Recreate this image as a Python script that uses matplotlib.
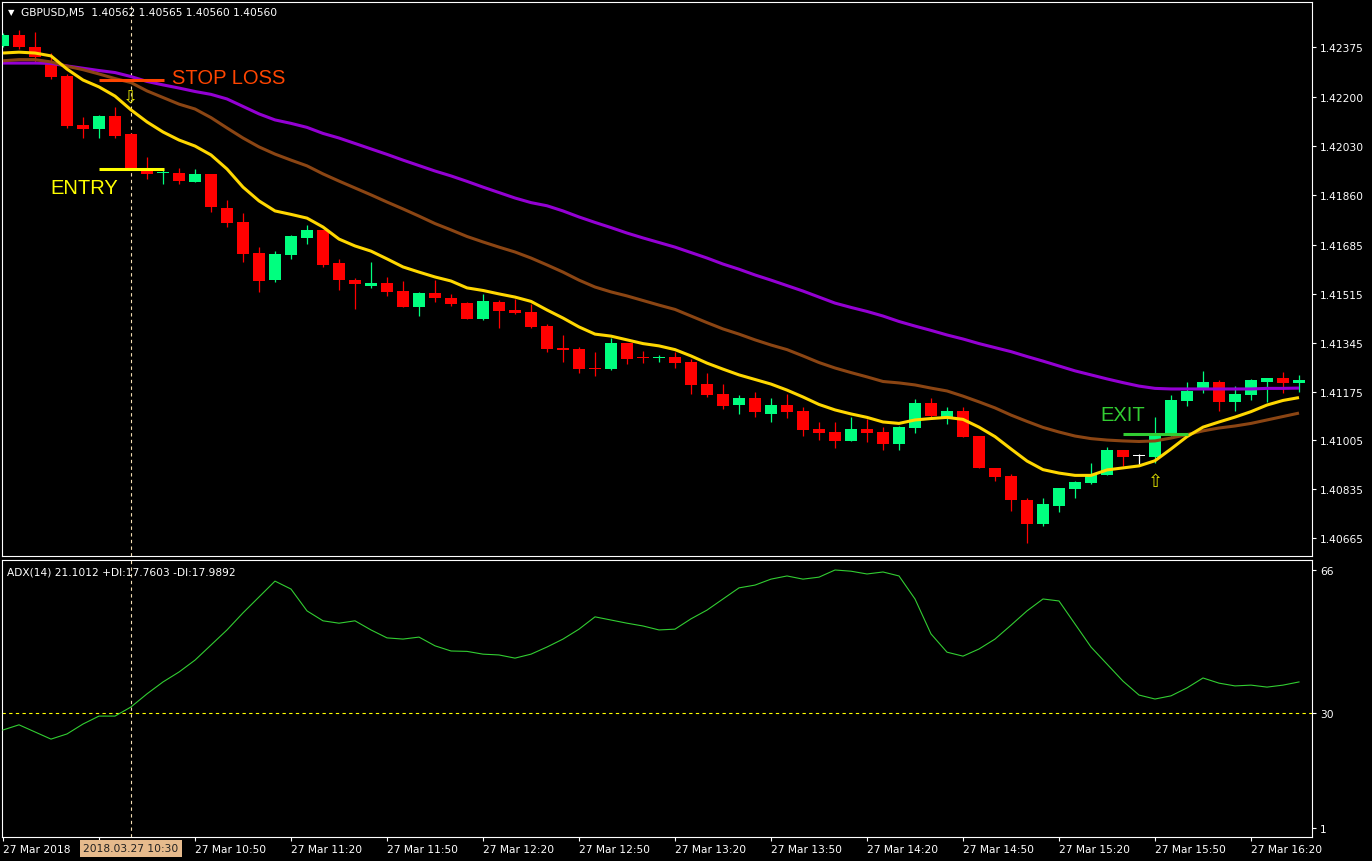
import numpy as np
import matplotlib
matplotlib.use("Agg")
from matplotlib import pyplot as plt
from matplotlib import transforms

# GBPUSD M5, 27 Mar 2018, 82 bars from 09:50 to 16:35

opens = [1.42380, 1.42417, 1.42374, 1.42322, 1.42275, 1.42103, 1.42090, 1.42135, 1.42072, 1.41950,
         1.41935, 1.41936, 1.41905, 1.41933, 1.41814, 1.41767, 1.41659, 1.41565, 1.41652, 1.41711,
         1.41738, 1.41623, 1.41563, 1.41544, 1.41553, 1.41525, 1.41471, 1.41518, 1.41501, 1.41483,
         1.41428, 1.41487, 1.41459, 1.41452, 1.41403, 1.41328, 1.41323, 1.41258, 1.41255, 1.41344,
         1.41294, 1.41292, 1.41295, 1.41278, 1.41201, 1.41166, 1.41128, 1.41152, 1.41097, 1.41128,
         1.41107, 1.41045, 1.41034, 1.41003, 1.41045, 1.41034, 1.40992, 1.41048, 1.41135, 1.41086,
         1.41107, 1.41020, 1.40909, 1.40881, 1.40797, 1.40714, 1.40776, 1.40836, 1.40856, 1.40884,
         1.40971, 1.40950, 1.40947, 1.41020, 1.41142, 1.41187, 1.41208, 1.41139, 1.41163, 1.41208,
         1.41222, 1.41205]
highs = [1.42424, 1.42434, 1.42426, 1.42354, 1.42280, 1.42132, 1.42138, 1.42166, 1.42074, 1.41992,
         1.41950, 1.41954, 1.41950, 1.41934, 1.41842, 1.41798, 1.41678, 1.41666, 1.41721, 1.41755,
         1.41739, 1.41637, 1.41570, 1.41626, 1.41574, 1.41560, 1.41522, 1.41563, 1.41515, 1.41487,
         1.41515, 1.41494, 1.41497, 1.41480, 1.41410, 1.41372, 1.41331, 1.41313, 1.41361, 1.41345,
         1.41316, 1.41302, 1.41313, 1.41288, 1.41240, 1.41201, 1.41163, 1.41173, 1.41152, 1.41166,
         1.41121, 1.41069, 1.41069, 1.41086, 1.41079, 1.41051, 1.41055, 1.41149, 1.41152, 1.41121,
         1.41121, 1.41021, 1.40910, 1.40888, 1.40804, 1.40804, 1.40840, 1.40863, 1.40926, 1.40982,
         1.40972, 1.40957, 1.41086, 1.41163, 1.41208, 1.41247, 1.41215, 1.41194, 1.41219, 1.41223,
         1.41243, 1.41233]
lows = [1.42375, 1.42368, 1.42322, 1.42264, 1.42094, 1.42058, 1.42058, 1.42058, 1.41948, 1.41915,
        1.41898, 1.41898, 1.41904, 1.41801, 1.41749, 1.41626, 1.41523, 1.41558, 1.41637, 1.41690,
        1.41610, 1.41529, 1.41464, 1.41537, 1.41509, 1.41470, 1.41439, 1.41488, 1.41474, 1.41428,
        1.41424, 1.41397, 1.41445, 1.41396, 1.41314, 1.41279, 1.41241, 1.41230, 1.41251, 1.41272,
        1.41275, 1.41279, 1.41258, 1.41167, 1.41157, 1.41114, 1.41097, 1.41086, 1.41069, 1.41083,
        1.41020, 1.41006, 1.40978, 1.41002, 1.40999, 1.40971, 1.40971, 1.41031, 1.41079, 1.41062,
        1.41016, 1.40908, 1.40864, 1.40759, 1.40648, 1.40707, 1.40755, 1.40804, 1.40853, 1.40883,
        1.40916, 1.40919, 1.40926, 1.41019, 1.41125, 1.41170, 1.41107, 1.41107, 1.41146, 1.41139,
        1.41170, 1.41173]
closes = [1.42417, 1.42376, 1.42339, 1.42272, 1.42100, 1.42090, 1.42135, 1.42065, 1.41950, 1.41933,
          1.41936, 1.41909, 1.41933, 1.41819, 1.41763, 1.41654, 1.41561, 1.41654, 1.41717, 1.41738,
          1.41617, 1.41565, 1.41551, 1.41553, 1.41523, 1.41471, 1.41518, 1.41502, 1.41480, 1.41429,
          1.41490, 1.41457, 1.41450, 1.41401, 1.41324, 1.41321, 1.41255, 1.41255, 1.41344, 1.41289,
          1.41291, 1.41294, 1.41275, 1.41199, 1.41164, 1.41125, 1.41152, 1.41104, 1.41128, 1.41104,
          1.41041, 1.41032, 1.41003, 1.41045, 1.41032, 1.40992, 1.41051, 1.41135, 1.41090, 1.41107,
          1.41017, 1.40909, 1.40878, 1.40797, 1.40714, 1.40783, 1.40839, 1.40860, 1.40888, 1.40971,
          1.40947, 1.40950, 1.41020, 1.41146, 1.41177, 1.41208, 1.41139, 1.41166, 1.41215, 1.41222,
          1.41205, 1.41215]

ma_fast = [1.42354, 1.42357, 1.42354, 1.42344, 1.42298, 1.42260, 1.42236, 1.42204, 1.42156, 1.42114,
           1.42079, 1.42051, 1.42030, 1.41999, 1.41950, 1.41887, 1.41839, 1.41804, 1.41792, 1.41779,
           1.41748, 1.41706, 1.41682, 1.41664, 1.41637, 1.41609, 1.41591, 1.41574, 1.41560, 1.41536,
           1.41527, 1.41515, 1.41504, 1.41489, 1.41459, 1.41431, 1.41400, 1.41375, 1.41368, 1.41355,
           1.41342, 1.41334, 1.41321, 1.41299, 1.41274, 1.41253, 1.41233, 1.41217, 1.41201, 1.41180,
           1.41156, 1.41130, 1.41111, 1.41097, 1.41085, 1.41069, 1.41064, 1.41076, 1.41081, 1.41085,
           1.41078, 1.41051, 1.41018, 1.40975, 1.40933, 1.40903, 1.40891, 1.40883, 1.40883, 1.40902,
           1.40909, 1.40916, 1.40934, 1.40975, 1.41018, 1.41051, 1.41069, 1.41086, 1.41105, 1.41128,
           1.41144, 1.41154]
ma_mid = [1.42327, 1.42331, 1.42331, 1.42323, 1.42308, 1.42296, 1.42281, 1.42265, 1.42251, 1.42222,
          1.42199, 1.42176, 1.42159, 1.42129, 1.42093, 1.42058, 1.42027, 1.42002, 1.41981, 1.41961,
          1.41933, 1.41908, 1.41884, 1.41860, 1.41835, 1.41811, 1.41786, 1.41760, 1.41738, 1.41715,
          1.41696, 1.41678, 1.41661, 1.41640, 1.41616, 1.41591, 1.41563, 1.41539, 1.41522, 1.41508,
          1.41492, 1.41476, 1.41461, 1.41438, 1.41415, 1.41393, 1.41375, 1.41355, 1.41337, 1.41321,
          1.41299, 1.41276, 1.41257, 1.41241, 1.41226, 1.41210, 1.41205, 1.41198, 1.41187, 1.41177,
          1.41159, 1.41139, 1.41118, 1.41093, 1.41071, 1.41050, 1.41034, 1.41020, 1.41011, 1.41006,
          1.41003, 1.41001, 1.41003, 1.41013, 1.41025, 1.41038, 1.41048, 1.41055, 1.41064, 1.41076,
          1.41088, 1.41100]
ma_slow = [1.42319, 1.42319, 1.42319, 1.42318, 1.42309, 1.42301, 1.42293, 1.42286, 1.42272, 1.42255,
           1.42243, 1.42232, 1.42220, 1.42210, 1.42194, 1.42168, 1.42142, 1.42121, 1.42109, 1.42095,
           1.42074, 1.42058, 1.42039, 1.42020, 1.42001, 1.41981, 1.41962, 1.41943, 1.41926, 1.41907,
           1.41887, 1.41868, 1.41849, 1.41833, 1.41822, 1.41804, 1.41783, 1.41764, 1.41746, 1.41727,
           1.41710, 1.41694, 1.41678, 1.41659, 1.41640, 1.41619, 1.41601, 1.41581, 1.41563, 1.41544,
           1.41525, 1.41504, 1.41483, 1.41468, 1.41454, 1.41438, 1.41419, 1.41403, 1.41388, 1.41372,
           1.41358, 1.41342, 1.41328, 1.41314, 1.41297, 1.41281, 1.41264, 1.41247, 1.41233, 1.41219,
           1.41206, 1.41194, 1.41186, 1.41184, 1.41184, 1.41184, 1.41184, 1.41184, 1.41184, 1.41186,
           1.41186, 1.41187]

adx = [25.7, 27.0, 25.2, 23.4, 24.7, 27.2, 29.2, 29.2, 31.5, 34.8,
       37.8, 40.3, 43.3, 47.1, 50.9, 55.2, 59.2, 63.2, 61.2, 55.7,
       53.2, 52.6, 53.2, 50.9, 48.9, 48.6, 49.1, 46.9, 45.6, 45.5,
       44.8, 44.6, 43.8, 44.8, 46.6, 48.6, 51.1, 54.2, 53.4, 52.6,
       51.9, 50.9, 51.1, 53.7, 55.9, 58.7, 61.5, 62.2, 63.7, 64.5,
       63.7, 64.2, 66.0, 65.7, 65.0, 65.5, 64.5, 58.7, 49.9, 45.3,
       44.3, 46.1, 48.6, 52.1, 55.7, 58.7, 58.2, 52.4, 46.6, 42.3,
       38.0, 34.5, 33.5, 34.3, 36.3, 38.8, 37.5, 36.8, 37.0, 36.5,
       37.0, 37.8]

price_ticks = [1.42375, 1.42200, 1.42030, 1.41860, 1.41685, 1.41515,
               1.41345, 1.41175, 1.41005, 1.40835, 1.40665]
adx_ticks = [66, 30, 1]
time_ticks = [0, 6, 12, 18, 24, 30, 36, 42, 48, 54, 60, 66, 72, 78]
time_labels = ["27 Mar 2018", "", "27 Mar 10:50", "27 Mar 11:20", "27 Mar 11:50",
               "27 Mar 12:20", "27 Mar 12:50", "27 Mar 13:20", "27 Mar 13:50",
               "27 Mar 14:20", "27 Mar 14:50", "27 Mar 15:20", "27 Mar 15:50",
               "27 Mar 16:20"]

stop_loss = 1.42260
entry = 1.41950
exit_price = 1.41026
adx_level = 30
header = "GBPUSD,M5  1.40562 1.40565 1.40560 1.40560"
adx_header = "ADX(14) 21.1012 +DI:17.7603 -DI:17.9892"
cursor_label = "2018.03.27 10:30"

W, H = 1372, 862
fig = plt.figure(figsize=(W / 100, H / 100), dpi=100, facecolor="black")
ax = fig.add_axes([2 / W, 305 / H, 1310 / W, 554 / H])
ax2 = fig.add_axes([2 / W, 24 / H, 1310 / W, 277 / H])

for a in (ax, ax2):
    a.set_facecolor("black")
    for s in a.spines.values():
        s.set_color("white")
        s.set_linewidth(0.8)
    a.set_xlim(-0.0625, 81.8125)
    a.yaxis.tick_right()
    a.tick_params(colors="white", labelcolor="white", length=3, width=0.8,
                  labelsize=7.7, pad=3)
    a.axvline(8, color="#F5DEB3", lw=0.8, ls=(0, (3, 3)), zorder=1)

x = np.arange(len(opens))
o = np.array(opens)
c = np.array(closes)
col = np.where(c > o, "#00FF7F", np.where(c < o, "#FF0000", "#FFFFFF"))

ax.vlines(x, lows, highs, colors=col, lw=0.9, zorder=2)
ax.bar(x, np.maximum(np.abs(c - o), 0.00003), bottom=np.minimum(o, c), width=0.69,
       color=col, linewidth=0, zorder=3)

ax.plot(x, ma_slow, color="#9400D3", lw=2.2, zorder=4, solid_capstyle="butt")
ax.plot(x, ma_mid, color="#8B4513", lw=2.2, zorder=5, solid_capstyle="butt")
ax.plot(x, ma_fast, color="#FFD700", lw=2.2, zorder=6, solid_capstyle="butt")

ax.set_ylim(1.406022, 1.425317)
ax.set_yticks(price_ticks, labels=[f"{p:.5f}" for p in price_ticks])
ax.set_xticks(time_ticks)
ax.tick_params(axis="x", length=0, labelbottom=False)

# trade markup
ax.hlines(stop_loss, 6, 10.06, color="#FF4500", lw=2.2, zorder=7)
ax.hlines(entry, 6, 10.06, color="#FFFF00", lw=2.2, zorder=7)
ax.hlines(exit_price, 70, 74.06, color="#32CD32", lw=2.2, zorder=7)
ax.text(10.56, stop_loss + 0.0001, "STOP LOSS", color="#FF4500", fontsize=14.5,
        family="Liberation Sans", va="center", ha="left")
ax.text(2.94, entry - 0.00063, "ENTRY", color="#FFFF00", fontsize=14.5,
        family="Liberation Sans", va="center", ha="left")
ax.text(68.6, exit_price + 0.0007, "EXIT", color="#32CD32", fontsize=14.5,
        family="Liberation Sans", va="center", ha="left")
ax.text(7.94, 1.42201, "\u21e9", color="#E0E000", fontsize=13, ha="center", va="center",
        zorder=8)
ax.text(72.03, 1.40863, "\u21e7", color="#E0E000", fontsize=13, ha="center", va="center",
        zorder=8)

ax.text(0.0069, 0.9825, "\u25bc", transform=ax.transAxes, color="white", fontsize=6,
        ha="center", va="center")
ax.text(0.0145, 0.9825, header, transform=ax.transAxes, color="white", fontsize=7.7,
        ha="left", va="center")

# ADX window
ax2.plot(x, adx, color="#32CD32", lw=0.8, zorder=3)
ax2.axhline(adx_level, color="#FFFF00", lw=0.8, ls=(0, (3, 3)), zorder=2)
ax2.set_ylim(-1.26, 68.52)
ax2.set_yticks(adx_ticks, labels=[str(v) for v in adx_ticks])
ax2.set_xticks(time_ticks, labels=time_labels)
ax2.tick_params(axis="x", length=3, pad=2)
for lbl in ax2.get_xticklabels():
    lbl.set_ha("left")
ax2.text(0.0038, 0.960, adx_header, transform=ax2.transAxes, color="white",
         fontsize=7.7, ha="left", va="center")

trans = transforms.blended_transform_factory(ax2.transData, ax2.transAxes)
ax2.text(8, -0.0415, cursor_label, transform=trans, color="#202020", fontsize=7.7,
         ha="center", va="center", clip_on=False,
         bbox=dict(boxstyle="square,pad=0.35", facecolor="#E6BA8C", edgecolor="none"))

fig.savefig("out.png", dpi=100, facecolor="black")
